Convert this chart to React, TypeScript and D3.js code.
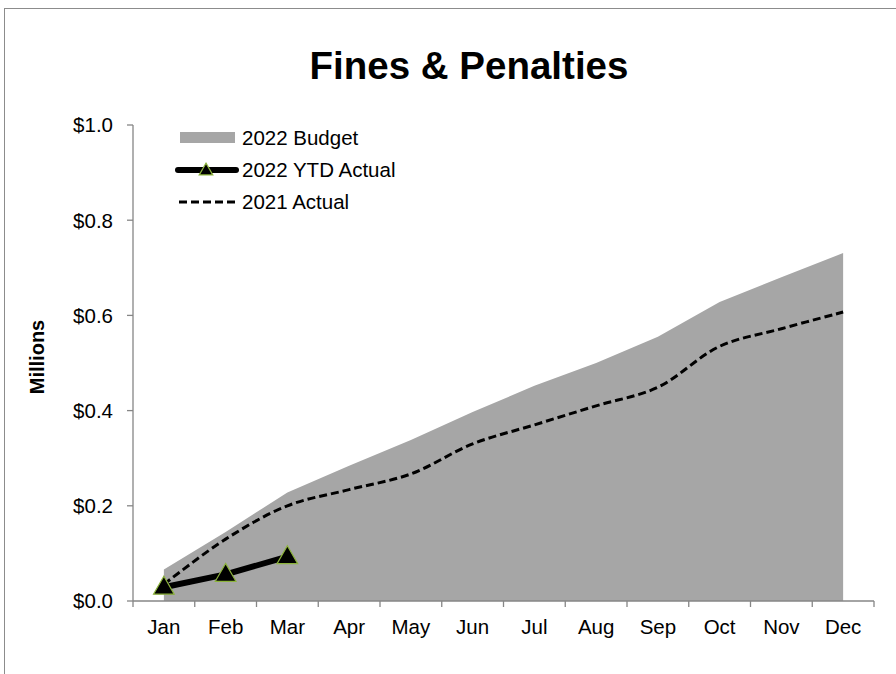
import React from "react";
import * as d3 from "d3";

const months = ["Jan", "Feb", "Mar", "Apr", "May", "Jun", "Jul", "Aug", "Sep", "Oct", "Nov", "Dec"];
const budget2022 = [0.066, 0.145, 0.228, 0.284, 0.338, 0.397, 0.452, 0.5, 0.555, 0.628, 0.68, 0.731];
const ytd2022 = [0.029, 0.056, 0.093];
const actual2021 = [0.035, 0.13, 0.2, 0.234, 0.267, 0.33, 0.37, 0.41, 0.449, 0.535, 0.572, 0.607];
const yTicks = [0, 0.2, 0.4, 0.6, 0.8, 1.0];
const legendLabels = ["2022 Budget", "2022 YTD Actual", "2021 Actual"];

const W = 896;
const H = 674;
const plot = { left: 133, right: 874, top: 125, bottom: 601 };
const FONT = "'Liberation Sans', Arial, sans-serif";
const AXIS = "#868686";
const GREEN = "#8DB43D";
const FS = 20.5;

export default function App() {
  const x = d3.scaleBand<string>().domain(months).range([plot.left, plot.right]).padding(0);
  const cx = (m: string) => (x(m) as number) + x.bandwidth() / 2;
  const y = d3.scaleLinear().domain([0, 1]).range([plot.bottom, plot.top]);

  const area = d3
    .area<number>()
    .x((_, i) => cx(months[i]))
    .y0(y(0))
    .y1((d) => y(d));
  const ytdLine = d3
    .line<number>()
    .x((_, i) => cx(months[i]))
    .y((d) => y(d));
  const smooth = d3
    .line<number>()
    .x((_, i) => cx(months[i]))
    .y((d) => y(d))
    .curve(d3.curveCatmullRom.alpha(0.5));

  const tri = (s: number) => d3.symbol().type(d3.symbolTriangle).size(s)() as string;

  const boundaries = [...months.map((m) => x(m) as number), plot.right];

  const legX = 178;
  const legY = [138, 170, 202];

  return (
    <svg
      width={W}
      height={H}
      style={{ position: "absolute", left: 0, top: 0, background: "#fff" }}
      fontFamily={FONT}
    >
      <rect x={4.5} y={8.5} width={1200} height={1200} fill="none" stroke="#8c8c8c" strokeWidth={1} />
      <text x={469} y={79} textAnchor="middle" fontSize={38.5} fontWeight="bold" fill="#000">
        Fines &amp; Penalties
      </text>

      {/* budget area */}
      <path d={area(budget2022) as string} fill="#A6A6A6" />

      {/* axes */}
      <line x1={plot.left} x2={plot.left} y1={plot.top} y2={plot.bottom} stroke={AXIS} strokeWidth={1.3} />
      {yTicks.map((t) => (
        <g key={t}>
          <line x1={plot.left - 6} x2={plot.left} y1={y(t)} y2={y(t)} stroke={AXIS} strokeWidth={1.3} />
          <text x={plot.left - 20} y={y(t)} dy="0.36em" textAnchor="end" fontSize={FS} fill="#000">
            {"$" + d3.format(".1f")(t)}
          </text>
        </g>
      ))}
      <line x1={plot.left} x2={plot.right} y1={plot.bottom} y2={plot.bottom} stroke={AXIS} strokeWidth={1.3} />
      {boundaries.map((b, i) => (
        <line key={i} x1={b} x2={b} y1={plot.bottom} y2={plot.bottom + 6} stroke={AXIS} strokeWidth={1.3} />
      ))}
      {months.map((m) => (
        <text key={m} x={cx(m)} y={634} textAnchor="middle" fontSize={FS} fill="#000">
          {m}
        </text>
      ))}
      <text
        transform={`translate(44,357) rotate(-90)`}
        textAnchor="middle"
        fontSize={20}
        fontWeight="bold"
        fill="#000"
      >
        Millions
      </text>

      {/* 2021 actual dashed */}
      <path d={smooth(actual2021) as string} fill="none" stroke="#000" strokeWidth={3} strokeDasharray="8,4" />

      {/* 2022 YTD */}
      <path d={ytdLine(ytd2022) as string} fill="none" stroke="#000" strokeWidth={6} strokeLinejoin="round" />
      {ytd2022.map((v, i) => (
        <path
          key={i}
          d={tri(185)}
          transform={`translate(${cx(months[i])},${y(v) + 1})`}
          fill="#000"
          stroke={GREEN}
          strokeWidth={1.2}
        />
      ))}

      {/* legend */}
      <rect x={legX + 2} y={legY[0] - 6} width={55} height={11} fill="#A6A6A6" />
      <line x1={legX} x2={legX + 58} y1={legY[1]} y2={legY[1]} stroke="#000" strokeWidth={6} strokeLinecap="round" />
      <path d={tri(80)} transform={`translate(${legX + 28},${legY[1] + 1})`} fill="#000" stroke={GREEN} strokeWidth={1.2} />
      <line x1={legX + 1} x2={legX + 58} y1={legY[2]} y2={legY[2]} stroke="#000" strokeWidth={3} strokeDasharray="8,4" />
      {legendLabels.map((l, i) => (
        <text key={l} x={legX + 64} y={legY[i]} dy="0.36em" fontSize={FS} fill="#000">
          {l}
        </text>
      ))}
    </svg>
  );
}
